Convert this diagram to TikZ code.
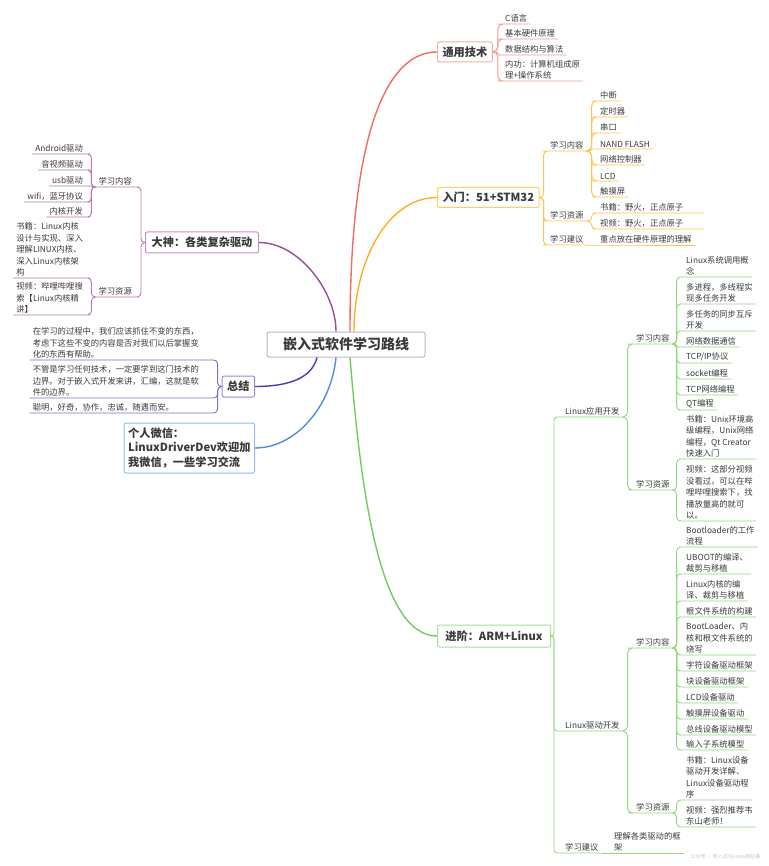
\documentclass[tikz,border=0pt]{standalone}
\usepackage{fontspec}
\setmainfont{Noto Sans CJK SC}
\usetikzlibrary{calc}
\definecolor{cred}{HTML}{F26B5B}\definecolor{lred}{HTML}{F49A8E}\definecolor{bred}{HTML}{F6AFA6}
\definecolor{cora}{HTML}{FDB022}\definecolor{lora}{HTML}{FFC44D}\definecolor{bora}{HTML}{FFCF66}
\definecolor{cgrn}{HTML}{74CB5F}\definecolor{lgrn}{HTML}{92D881}\definecolor{bgrn}{HTML}{A6E096}
\definecolor{cpur}{HTML}{9C4B96}\definecolor{lpur}{HTML}{B978B2}\definecolor{bpur}{HTML}{C890C2}
\definecolor{cind}{HTML}{5838A5}\definecolor{lind}{HTML}{8270C4}\definecolor{bind}{HTML}{9A8AD0}
\definecolor{cblu}{HTML}{4C8FE0}\definecolor{bblu}{HTML}{8EBDEE}
\definecolor{rootb}{HTML}{B5BCC8}\definecolor{txt}{HTML}{3A3A3A}\definecolor{wm}{HTML}{C4C4C4}
\newcommand\nf{\fontsize{8.3}{11.5}\selectfont}
\newcommand\tf{\bfseries\fontsize{11.2}{14.5}\selectfont}
% right branch: [trunk offset]{style}{from point}{child node}
\newcommand\rbr[4][5]{%
  \draw[#2] let \p1=(#3), \p2=(#4.south west), \n1={min(#1,abs(\y2-(\y1))/2)} in
    [rounded corners=\n1] (\p1) -- ({\x1+#1pt},\y1) -- ({\x1+#1pt},\y2) -- (\p2) -- (#4.south east);}
% left branch
\newcommand\lbr[4][5]{%
  \draw[#2] let \p1=(#3), \p2=(#4.south east), \n1={min(#1,abs(\y2-(\y1))/2)} in
    [rounded corners=\n1] (\p1) -- ({\x1-#1pt},\y1) -- ({\x1-#1pt},\y2) -- (\p2) -- (#4.south west);}
\begin{document}
\begin{tikzpicture}[x=1pt,y=-1pt,
  leaf/.style={font=\nf, text=txt, inner xsep=3pt, inner ysep=1.5pt, align=left},
  rleaf/.style={leaf, anchor=south west},
  lleaf/.style={leaf, anchor=south east},
  topic/.style={font=\tf, text=txt, draw, rounded corners=2pt, line width=1pt, fill=white, inner xsep=5pt, minimum height=20pt},
  mainline/.style={line width=1.4pt},
  subline/.style={line width=0.9pt}]
\useasboundingbox (0,0) rectangle (768,866);
\fill[white] (0,0) rectangle (768,866);

% ---------- root and topics ----------
\node[draw=rootb, line width=1pt, rounded corners=2pt, fill=white, font=\bfseries\fontsize{14}{16}\selectfont, text=txt,
      minimum width=158pt, minimum height=25pt] (root) at (346,344.5) {嵌入式软件学习路线};
\node[topic, draw=bred, anchor=west] (gen) at (437,52) {通用技术};
\node[topic, draw=bora, anchor=west, minimum width=100pt] (intro) at (437,197.5) {入门：51+STM32};
\node[topic, draw=bgrn, anchor=west, minimum width=113pt, minimum height=22pt] (adv) at (437,636) {进阶：ARM+Linux};
\node[topic, draw=bpur, anchor=east, minimum width=113pt, minimum height=21pt] (god) at (259,242.5) {大神：各类复杂驱动};
\node[topic, draw=bind, anchor=east, minimum width=32pt, minimum height=21pt] (sum) at (255,386.5) {总结};
\node[topic, draw=bblu, anchor=east, align=left, inner xsep=4pt, minimum width=126pt, minimum height=50pt] (wx) at (255,448)
  {个人微信：\\LinuxDriverDev欢迎加\\我微信，一些学习交流};

% ---------- main connectors ----------
\draw[mainline,cred] ([xshift=4pt]root.north) .. controls +(0,-200) and +(-50,0) .. (gen.west);
\draw[mainline,cora] ([xshift=8pt]root.north) .. controls +(0,-70) and +(-50,0) .. (intro.west);
\draw[mainline,cgrn] ([xshift=4pt]root.south) .. controls +(10,120) and +(-60,0) .. (adv.west);
\draw[mainline,cpur] ([xshift=-10pt]root.north) .. controls +(0,-40) and +(40,0) .. (god.east);
\draw[mainline,cind] ([xshift=-29pt]root.south) .. controls +(-5,20) and +(35,0) .. (sum.east);
\draw[mainline,cblu] ([xshift=-10pt]root.south) .. controls +(-5,50) and +(40,0) .. (wx.east);

% ---------- 通用技术 ----------
\node[rleaf] (g1) at (502,24) {C语言};
\node[rleaf] (g2) at (502,39) {基本硬件原理};
\node[rleaf] (g3) at (502,55) {数据结构与算法};
\node[rleaf] (g4) at (502,81) {内功：计算机组成原\\理+操作系统};
\foreach \c in {g1,g2,g3,g4} {\rbr[5]{subline,lred}{gen.east}{\c}}

% ---------- 入门 ----------
\node[rleaf] (i1) at (547,151) {学习内容};
\node[rleaf] (i2) at (547,221) {学习资源};
\node[rleaf] (i3) at (547,245) {学习建议};
\foreach \c in {i1,i2,i3} {\rbr[4]{subline,lora}{intro.east}{\c}}
\node[rleaf] (i11) at (597,101) {中断};
\node[rleaf] (i12) at (597,117) {定时器};
\node[rleaf] (i13) at (597,133) {串口};
\node[rleaf] (i14) at (597,149) {NAND FLASH};
\node[rleaf] (i15) at (597,165) {网络控制器};
\node[rleaf] (i16) at (597,181) {LCD};
\node[rleaf] (i17) at (597,197) {触摸屏};
\foreach \c in {i11,i12,i13,i14,i15,i16,i17} {\rbr[5]{subline,lora}{i1.south east}{\c}}
\node[rleaf, text width=100pt] (i21) at (597,213) {书籍：野火，正点原子};
\node[rleaf, text width=100pt] (i22) at (597,229) {视频：野火，正点原子};
\foreach \c in {i21,i22} {\rbr[5]{subline,lora}{i2.south east}{\c}}
\node[rleaf] (i31) at (597,245) {重点放在硬件原理的理解};
\rbr[5]{subline,lora}{i3.south east}{i31}

% ---------- 进阶 ----------
\node[rleaf] (a1) at (562,417) {Linux应用开发};
\node[rleaf] (a2) at (562,731) {Linux驱动开发};
\node[rleaf] (a3) at (562,853) {学习建议};
\foreach \c in {a1,a2,a3} {\rbr[3]{subline,lgrn}{adv.east}{\c}}
\node[rleaf] (a11) at (633,344) {学习内容};
\node[rleaf] (a12) at (633,490) {学习资源};
\foreach \c in {a11,a12} {\rbr[5]{subline,lgrn}{a1.south east}{\c}}
\node[rleaf] (b1) at (683,277) {Linux系统调用概\\念};
\node[rleaf] (b2) at (683,304) {多进程，多线程实\\现多任务开发};
\node[rleaf] (b3) at (683,331) {多任务的同步互斥\\开发};
\node[rleaf] (b4) at (683,347) {网络数据通信};
\node[rleaf] (b5) at (683,363) {TCP/IP协议};
\node[rleaf] (b6) at (683,379) {socket编程};
\node[rleaf] (b7) at (683,395) {TCP网络编程};
\node[rleaf] (b8) at (683,410) {QT编程};
\foreach \c in {b1,b2,b3,b4,b5,b6,b7,b8} {\rbr[4]{subline,lgrn}{a11.south east}{\c}}
\node[rleaf] (c1) at (683,459) {书籍：Unix环境高\\级编程，Unix网络\\编程，Qt Creator\\快速入门};
\node[rleaf] (c2) at (683,521) {视频：这部分视频\\没看过，可以在哔\\哩哔哩搜索下，找\\播放量高的就可\\以。};
\foreach \c in {c1,c2} {\rbr[4]{subline,lgrn}{a12.south east}{\c}}
\node[rleaf] (a21) at (633,648) {学习内容};
\node[rleaf] (a22) at (633,813) {学习资源};
\foreach \c in {a21,a22} {\rbr[5]{subline,lgrn}{a2.south east}{\c}}
\node[rleaf] (d1) at (683,547) {Bootloader的工作\\流程};
\node[rleaf] (d2) at (683,574) {UBOOT的编译、\\裁剪与移植};
\node[rleaf] (d3) at (683,601) {Linux内核的编\\译、裁剪与移植};
\node[rleaf] (d4) at (683,617) {根文件系统的构建};
\node[rleaf] (d5) at (683,655) {BootLoader、内\\核和根文件系统的\\烧写};
\node[rleaf] (d6) at (683,671) {字符设备驱动框架};
\node[rleaf] (d7) at (683,687) {块设备驱动框架};
\node[rleaf] (d8) at (683,703) {LCD设备驱动};
\node[rleaf] (d9) at (683,719) {触摸屏设备驱动};
\node[rleaf] (d10) at (683,735) {总线设备驱动模型};
\node[rleaf] (d11) at (683,750) {输入子系统模型};
\foreach \c in {d1,d2,d3,d4,d5,d6,d7,d8,d9,d10,d11} {\rbr[4]{subline,lgrn}{a21.south east}{\c}}
\node[rleaf] (e1) at (683,800) {书籍：Linux设备\\驱动开发详解、\\Linux设备驱动程\\序};
\node[rleaf] (e2) at (683,827) {视频：强烈推荐韦\\东山老师！};
\foreach \c in {e1,e2} {\rbr[4]{subline,lgrn}{a22.south east}{\c}}
\node[rleaf] (a31) at (611,853) {理解各类驱动的框\\架};
\rbr[5]{subline,lgrn}{a3.south east}{a31}

% ---------- 大神 ----------
\node[lleaf] (l1) at (135,187) {学习内容};
\node[lleaf] (l2) at (135,297) {学习资源};
\foreach \c in {l1,l2} {\lbr[4]{subline,lpur}{god.west}{\c}}
\node[lleaf] (m1) at (86,154) {Android驱动};
\node[lleaf] (m2) at (86,170) {音视频驱动};
\node[lleaf] (m3) at (86,186) {usb驱动};
\node[lleaf] (m4) at (86,202) {wifi，蓝牙协议};
\node[lleaf] (m5) at (86,217) {内核开发};
\foreach \c in {m1,m2,m3,m4,m5} {\lbr[4]{subline,lpur}{l1.south west}{\c}}
\node[lleaf] (n1) at (86,278) {书籍：Linux内核\\设计与实现、深入\\理解LINUX内核、\\深入Linux内核架\\构};
\node[lleaf] (n2) at (86,315) {视频：哔哩哔哩搜\\索【Linux内核精\\讲】};
\foreach \c in {n1,n2} {\lbr[4]{subline,lpur}{l2.south west}{\c}}

% ---------- 总结 ----------
\node[lleaf, text width=172pt] (s1) at (208,360) {在学习的过程中，我们应该抓住不变的东西，\\考虑下这些不变的内容是否对我们以后掌握变\\化的东西有帮助。};
\node[lleaf, text width=172pt] (s2) at (208,398) {不管是学习任何技术，一定要学到这门技术的\\边界。对于嵌入式开发来讲，汇编，这就是软\\件的边界。};
\node[lleaf, text width=172pt] (s3) at (208,413) {聪明，好奇，协作，忠诚，随遇而安。};
\foreach \c in {s1,s2,s3} {\lbr[4]{subline,lind}{sum.west}{\c}}

% ---------- watermark ----------
\node[font=\fontsize{5}{6}\selectfont, text=wm, anchor=east] (wmk) at (764,857) {公众号 · 嵌入式与Linux那些事};
\end{tikzpicture}
\end{document}
